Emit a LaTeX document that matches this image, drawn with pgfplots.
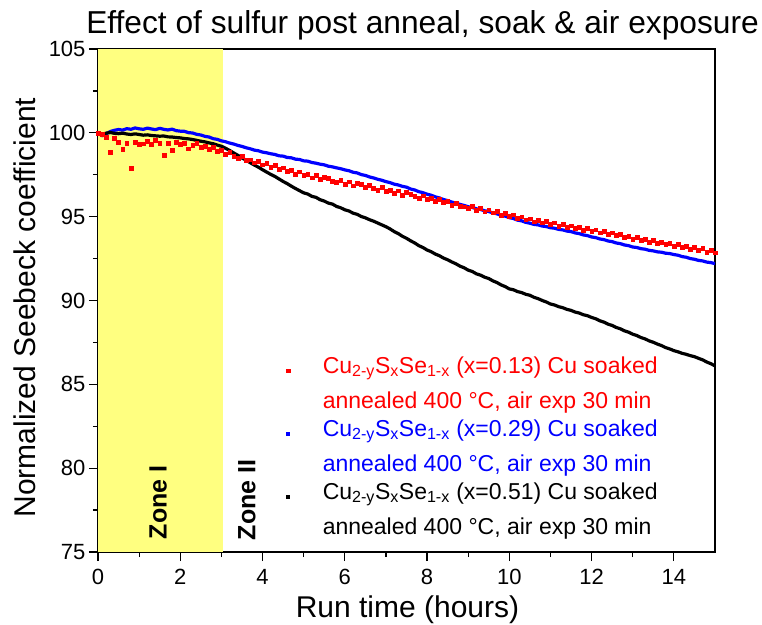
\documentclass[border=0pt]{standalone}
\usepackage{pgfplots}
\pgfplotsset{compat=1.18}
\usepackage{pgfplotstable}
\usepackage{fontspec}
\setmainfont{Liberation Sans}

\definecolor{zoneyellow}{RGB}{255,255,128}
\definecolor{sred}{RGB}{255,0,0}
\definecolor{sblue}{RGB}{0,0,255}

% x = 0.13 sample
\pgfplotstableread{
t S
0.0 100.00
0.1 99.90
0.2 99.75
0.3 98.83
0.4 99.70
0.5 99.45
0.6 99.00
0.7 99.40
0.8 97.87
0.9 99.42
1.0 99.30
1.1 99.35
1.2 99.48
1.3 99.32
1.4 99.55
1.5 99.38
1.6 98.65
1.7 99.40
1.8 98.95
1.9 99.45
2.0 99.30
2.1 99.38
2.2 99.05
2.3 99.25
2.4 99.40
2.5 99.12
2.6 99.22
2.7 99.02
2.8 99.15
2.9 98.90
3.0 98.95
3.1 98.72
3.2 98.85
3.3 98.60
3.4 98.48
3.5 98.62
3.6 98.35
3.7 98.40
3.8 98.22
3.9 98.30
4.0 98.10
4.1 98.18
4.2 97.95
4.3 98.05
4.4 97.85
4.5 97.92
4.6 97.70
4.7 97.78
4.8 97.55
4.9 97.68
5.0 97.48
5.1 97.55
5.2 97.32
5.3 97.45
5.4 97.25
5.5 97.36
5.6 97.30
5.7 97.12
5.8 97.05
5.9 97.18
6.0 96.95
6.1 97.08
6.2 96.85
6.3 97.00
6.4 96.92
6.5 96.78
6.6 96.90
6.7 96.70
6.8 96.58
6.9 96.75
7.0 96.52
7.1 96.60
7.2 96.40
7.3 96.55
7.4 96.30
7.5 96.44
7.6 96.36
7.7 96.20
7.8 96.10
7.9 96.25
8.0 96.02
8.1 96.12
8.2 95.90
8.3 96.02
8.4 95.84
8.5 95.92
8.6 95.70
8.7 95.82
8.8 95.64
8.9 95.60
9.0 95.52
9.1 95.62
9.2 95.40
9.3 95.50
9.4 95.30
9.5 95.42
9.6 95.24
9.7 95.32
9.8 95.10
9.9 95.20
10.0 95.02
10.1 95.12
10.2 94.90
10.3 95.00
10.4 94.82
10.5 94.88
10.6 94.70
10.7 94.80
10.8 94.64
10.9 94.72
11.0 94.55
11.1 94.64
11.2 94.45
11.3 94.55
11.4 94.36
11.5 94.46
11.6 94.32
11.7 94.38
11.8 94.20
11.9 94.30
12.0 94.14
12.1 94.22
12.2 94.04
12.3 94.12
12.4 93.95
12.5 94.04
12.6 93.88
12.7 93.94
12.8 93.76
12.9 93.85
13.0 93.66
13.1 93.76
13.2 93.58
13.3 93.66
13.4 93.48
13.5 93.58
13.6 93.42
13.7 93.50
13.8 93.34
13.9 93.42
14.0 93.25
14.1 93.34
14.2 93.16
14.3 93.25
14.4 93.08
14.5 93.16
14.6 93.00
14.7 93.10
14.8 92.90
14.9 93.00
15.0 92.85
}\tabRed

% x = 0.29 sample
\pgfplotstableread{
t S
0.0 100.00
0.1 99.82
0.2 99.95
0.3 100.08
0.4 100.15
0.5 100.20
0.6 100.16
0.7 100.25
0.8 100.21
0.9 100.29
1.0 100.24
1.1 100.21
1.2 100.28
1.3 100.23
1.4 100.19
1.5 100.27
1.6 100.21
1.7 100.17
1.8 100.22
1.9 100.13
2.0 100.10
2.1 100.09
2.2 100.01
2.3 99.99
2.4 99.91
2.5 99.87
2.6 99.79
2.7 99.75
2.8 99.65
2.9 99.61
3.0 99.52
3.1 99.47
3.2 99.39
3.3 99.33
3.4 99.25
3.5 99.19
3.6 99.11
3.7 99.05
3.8 98.97
3.9 98.93
4.0 98.85
4.1 98.81
4.2 98.75
4.3 98.71
4.4 98.63
4.5 98.61
4.6 98.53
4.7 98.51
4.8 98.43
4.9 98.41
5.0 98.33
5.1 98.31
5.2 98.23
5.3 98.19
5.4 98.13
5.5 98.09
5.6 98.01
5.7 97.97
5.8 97.91
5.9 97.86
6.0 97.79
6.1 97.74
6.2 97.65
6.3 97.61
6.4 97.51
6.5 97.46
6.6 97.37
6.7 97.31
6.8 97.23
6.9 97.17
7.0 97.09
7.1 97.03
7.2 96.94
7.3 96.89
7.4 96.81
7.5 96.76
7.6 96.65
7.7 96.59
7.8 96.49
7.9 96.43
8.0 96.34
8.1 96.28
8.2 96.18
8.3 96.12
8.4 96.02
8.5 95.96
8.6 95.87
8.7 95.81
8.8 95.73
8.9 95.67
9.0 95.59
9.1 95.55
9.2 95.47
9.3 95.43
9.4 95.35
9.5 95.31
9.6 95.22
9.7 95.17
9.8 95.08
9.9 95.03
10.0 94.94
10.1 94.89
10.2 94.79
10.3 94.75
10.4 94.66
10.5 94.61
10.6 94.54
10.7 94.51
10.8 94.44
10.9 94.41
11.0 94.34
11.1 94.31
11.2 94.24
11.3 94.21
11.4 94.14
11.5 94.11
11.6 94.03
11.7 93.99
11.8 93.91
11.9 93.87
12.0 93.79
12.1 93.75
12.2 93.67
12.3 93.63
12.4 93.55
12.5 93.51
12.6 93.43
12.7 93.39
12.8 93.31
12.9 93.27
13.0 93.19
13.1 93.16
13.2 93.09
13.3 93.06
13.4 92.99
13.5 92.96
13.6 92.90
13.7 92.88
13.8 92.82
13.9 92.80
14.0 92.74
14.1 92.70
14.2 92.62
14.3 92.58
14.4 92.50
14.5 92.46
14.6 92.39
14.7 92.36
14.8 92.29
14.9 92.26
15.0 92.20
}\tabBlue

% x = 0.51 sample
\pgfplotstableread{
t S
0.0 100.00
0.1 99.92
0.2 99.98
0.3 100.02
0.4 99.97
0.5 99.95
0.6 99.98
0.7 99.93
0.8 99.90
0.9 99.94
1.0 99.90
1.1 99.86
1.2 99.88
1.3 99.84
1.4 99.82
1.5 99.80
1.6 99.81
1.7 99.76
1.8 99.75
1.9 99.72
2.0 99.70
2.1 99.66
2.2 99.64
2.3 99.60
2.4 99.55
2.5 99.50
2.6 99.46
2.7 99.40
2.8 99.35
2.9 99.27
3.0 99.20
3.1 99.08
3.2 98.95
3.3 98.80
3.4 98.66
3.5 98.50
3.6 98.37
3.7 98.22
3.8 98.08
3.9 97.95
4.0 97.80
4.1 97.66
4.2 97.52
4.3 97.40
4.4 97.25
4.5 97.10
4.6 96.97
4.7 96.82
4.8 96.68
4.9 96.55
5.0 96.42
5.1 96.35
5.2 96.21
5.3 96.15
5.4 96.01
5.5 95.93
5.6 95.81
5.7 95.75
5.8 95.61
5.9 95.53
6.0 95.41
6.1 95.34
6.2 95.21
6.3 95.14
6.4 95.01
6.5 94.93
6.6 94.82
6.7 94.73
6.8 94.62
6.9 94.51
7.0 94.40
7.1 94.27
7.2 94.11
7.3 93.99
7.4 93.83
7.5 93.71
7.6 93.56
7.7 93.43
7.8 93.27
7.9 93.16
8.0 93.01
8.1 92.91
8.2 92.77
8.3 92.67
8.4 92.53
8.5 92.43
8.6 92.30
8.7 92.19
8.8 92.05
8.9 91.95
9.0 91.81
9.1 91.73
9.2 91.59
9.3 91.51
9.4 91.39
9.5 91.31
9.6 91.17
9.7 91.07
9.8 90.93
9.9 90.83
10.0 90.69
10.1 90.64
10.2 90.53
10.3 90.47
10.4 90.37
10.5 90.31
10.6 90.19
10.7 90.11
10.8 90.00
10.9 89.91
11.0 89.79
11.1 89.73
11.2 89.63
11.3 89.57
11.4 89.47
11.5 89.41
11.6 89.31
11.7 89.25
11.8 89.15
11.9 89.09
12.0 88.99
12.1 88.91
12.2 88.79
12.3 88.71
12.4 88.59
12.5 88.51
12.6 88.39
12.7 88.31
12.8 88.19
12.9 88.11
13.0 87.99
13.1 87.91
13.2 87.79
13.3 87.71
13.4 87.59
13.5 87.51
13.6 87.40
13.7 87.31
13.8 87.19
13.9 87.11
14.0 87.01
14.1 86.94
14.2 86.85
14.3 86.79
14.4 86.71
14.5 86.65
14.6 86.55
14.7 86.46
14.8 86.33
14.9 86.23
15.0 86.10
}\tabBlack

\newcommand{\compound}{Cu\textsubscript{2-y}S\textsubscript{x}Se\textsubscript{1-x}}

\begin{document}
\begin{tikzpicture}
\path[use as bounding box] (0,0) rectangle (762pt,624pt);
\begin{axis}[
  at={(98pt,72pt)}, anchor=south west,
  scale only axis, width=617pt, height=503pt,
  xmin=0, xmax=15, ymin=75, ymax=105,
  xtick={0,2,...,14}, ytick={75,80,...,105},
  minor x tick num=1, minor y tick num=1,
  tick align=outside, xtick pos=bottom, ytick pos=left,
  major tick length=9pt, minor tick length=5pt,
  axis line style={line width=1.2pt},
  every tick/.style={line width=1.2pt, black},
  /pgf/number format/assume math mode=true,
  tick label style={font=\fontsize{22}{26}\selectfont},
  xticklabel style={yshift=-5pt},
  title={Effect of sulfur post anneal, soak \& air exposure},
  title style={font=\fontsize{31.7}{36}\selectfont, anchor=base, at={(axis description cs:0.526,1)}, yshift=9pt, inner sep=0pt},
  xlabel={Run time (hours)},
  xlabel style={font=\fontsize{30}{35}\selectfont, at={(axis description cs:0.5016,0)}, anchor=base, yshift=-65pt, inner sep=0pt},
  ylabel={Normalized Seebeck coefficient},
  ylabel style={font=\fontsize{30}{35}\selectfont, at={(axis description cs:-0.102,0.486)}, anchor=base, rotate=0, inner sep=0pt},
  legend style={draw=none, fill=none, at={(axis description cs:0.2937,0.39)}, anchor=north west,
    font=\fontsize{23}{27}\selectfont, row sep=6pt, column sep=33pt, inner sep=0pt,
    nodes={inner sep=0pt}},
  legend cell align=left,
]
% Zone I background
\addplot[draw=none, fill=zoneyellow, forget plot] coordinates {(0,75) (0,105) (3.05,105) (3.05,75)} -- cycle;

\addplot[only marks, mark=square*, mark size=1.9pt, color=sred, forget plot] table[x=t,y=S] {\tabRed};
\addplot[sblue, line width=3.2pt, line join=round, forget plot] table[x=t,y=S] {\tabBlue};
\addplot[black, line width=3.2pt, line join=round, forget plot] table[x=t,y=S] {\tabBlack};

\node[rotate=90, anchor=west, font=\bfseries\fontsize{25}{30}\selectfont] at (axis cs:1.46,75.55) {Zone I};
\node[rotate=90, anchor=west, font=\bfseries\fontsize{25}{30}\selectfont] at (axis cs:3.62,75.5) {Zone II};

\addlegendimage{only marks, mark=square*, mark size=1.8pt, color=sred}
\addlegendentry[text=sred, text height=17pt, text depth=12pt]{\compound{} (x=0.13) Cu soaked}
\addlegendimage{empty legend}
\addlegendentry[text=sred, text height=17pt, text depth=5pt]{annealed 400 °C, air exp 30 min}
\addlegendimage{only marks, mark=square*, mark size=1.3pt, color=sblue}
\addlegendentry[text=sblue, text height=17pt, text depth=12pt]{\compound{} (x=0.29) Cu soaked}
\addlegendimage{empty legend}
\addlegendentry[text=sblue, text height=17pt, text depth=5pt]{annealed 400 °C, air exp 30 min}
\addlegendimage{only marks, mark=square*, mark size=1.5pt, color=black}
\addlegendentry[text=black, text height=17pt, text depth=12pt]{\compound{} (x=0.51) Cu soaked}
\addlegendimage{empty legend}
\addlegendentry[text=black, text height=17pt, text depth=5pt]{annealed 400 °C, air exp 30 min}
\end{axis}
\end{tikzpicture}
\end{document}
